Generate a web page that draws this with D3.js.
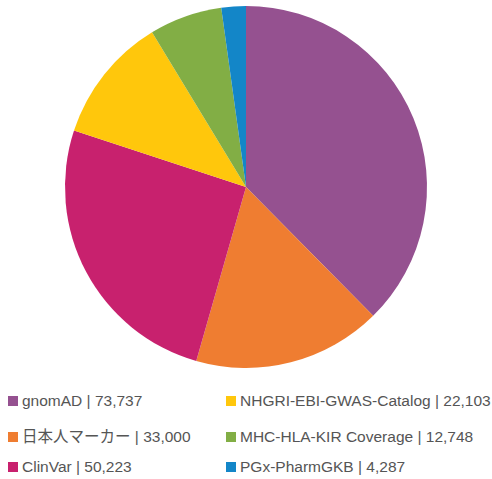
<!DOCTYPE html>
<html>
<head>
<meta charset="utf-8">
<script src="https://cdn.jsdelivr.net/npm/d3@7"></script>
<style>
  body { margin: 0; background: #fff; }
  text { font-family: "Liberation Sans", Arial, "Noto Sans CJK JP", sans-serif; }
</style>
</head>
<body>
<svg id="chart" width="492" height="479"></svg>
<script>
// data
const labels = ['gnomAD', '日本人マーカー', 'ClinVar', 'NHGRI-EBI-GWAS-Catalog', 'MHC-HLA-KIR Coverage', 'PGx-PharmGKB'];
const values = [73737, 33000, 50223, 22103, 12748, 4287];
const colors = ['#955190', '#EF7D31', '#C8216E', '#FFC70C', '#82AE45', '#1386C8'];

// legend layout: 2 columns, 3 rows (column-major)
const legendCol = [0, 0, 0, 1, 1, 1];
const legendRow = [0, 1, 2, 0, 1, 2];

const svg = d3.select('#chart');
const cx = 246, cy = 187, radius = 181;

const data = labels.map((l, i) => ({ label: l, value: values[i], color: colors[i] }));

const pie = d3.pie().value(d => d.value).sort(null);
const arc = d3.arc().innerRadius(0).outerRadius(radius);

const g = svg.append('g').attr('transform', `translate(${cx},${cy})`);
g.selectAll('path').data(pie(data)).enter()
  .append('path')
  .attr('d', arc)
  .attr('fill', d => d.data.color);

// legend
const colX = d3.scaleOrdinal().domain([0, 1]).range([8, 226]);
const rowY = d3.scaleOrdinal().domain([0, 1, 2]).range([401, 437, 467]);
const fmt = d3.format(',');

const leg = svg.append('g').selectAll('g').data(data).enter()
  .append('g')
  .attr('transform', (d, i) => `translate(${colX(legendCol[i])},${rowY(legendRow[i])})`);
leg.append('rect').attr('x', 0).attr('y', -5).attr('width', 10).attr('height', 10)
  .attr('fill', d => d.color);
leg.append('text').attr('x', 14).attr('y', 0).attr('dy', '0.35em')
  .style('font-size', '15.5px').style('fill', '#555')
  .text(d => `${d.label} | ${fmt(d.value)}`);
</script>
</body>
</html>
